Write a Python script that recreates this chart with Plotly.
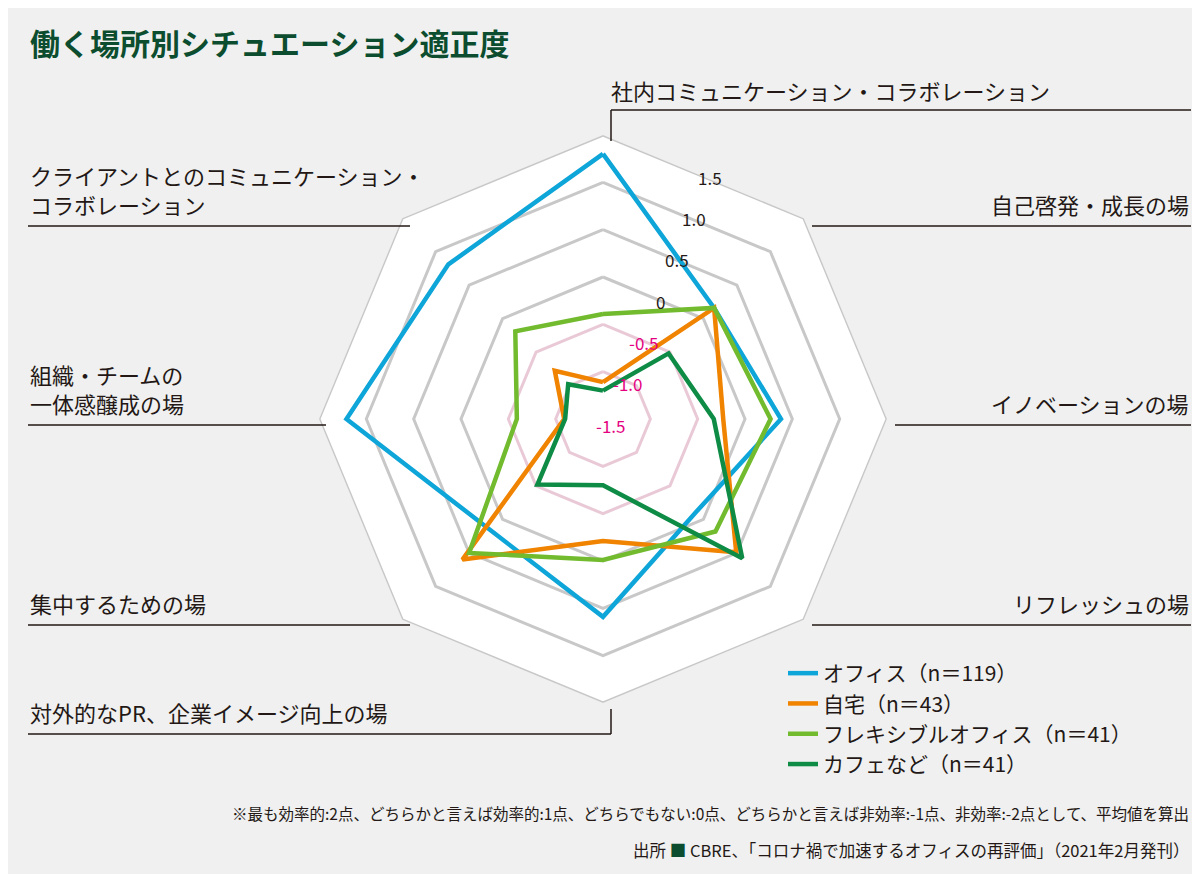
import math
import plotly.graph_objects as go

cats = ["社内コミュニケーション・コラボレーション", "自己啓発・成長の場", "イノベーションの場", "リフレッシュの場",
        "対外的なPR、企業イメージ向上の場", "集中するための場", "組織・チームの一体感醸成の場", "クライアントとのコミュニケーション・コラボレーション"]
series_names = ["オフィス（n＝119）", "自宅（n＝43）", "フレキシブルオフィス（n＝41）", "カフェなど（n＝41）"]
office = [1.30, 0.16, 0.38, -0.11, 0.59, 0.17, 1.21, 0.81]
home = [-1.11, 0.16, -0.23, 0.49, -0.21, 0.60, -1.09, -0.78]
flex = [-0.39, 0.16, 0.27, 0.18, -0.01, 0.50, -0.59, -0.19]
cafe = [-1.20, -0.52, -0.33, 0.58, -0.80, -0.52, -1.10, -0.98]
tick_vals = [-1.5, -1.0, -0.5, 0, 0.5, 1.0, 1.5]
tick_text = ["-1.5", "-1.0", "-0.5", "0", "0.5", "1.0", "1.5"]
colors = ["#0ea5d9", "#f08300", "#72bb2e", "#0e8c46"]
PINK = "#e4007f"
FONT = "Noto Sans CJK JP"

fig = go.Figure()
theta_closed = cats + [cats[0]]
for v in tick_vals[1:]:
    fig.add_trace(go.Scatterpolar(r=[v] * 9, theta=theta_closed, mode="lines",
                                  line=dict(color="#e9c9d6" if v < 0 else "#c8c8c8", width=3),
                                  showlegend=False, hoverinfo="skip"))
fig.add_trace(go.Scatterpolar(r=[tick_vals[0]], theta=[cats[0]], mode="markers",
                              marker=dict(color="#e9c9d6", size=8), showlegend=False, hoverinfo="skip"))
for name, vals, c in zip(series_names, [office, home, flex, cafe], colors):
    fig.add_trace(go.Scatterpolar(r=vals + [vals[0]], theta=theta_closed, mode="lines", name=name,
                                  line=dict(color=c, width=4.5)))

fig.update_layout(
    width=1200, height=874, margin=dict(l=0, r=0, t=0, b=0),
    paper_bgcolor="#f0f0f0", font=dict(family=FONT, color="#231815"),
    polar=dict(
        domain=dict(x=[311 / 1200, 879 / 1200], y=[1 - 695 / 874, 1 - 127 / 874]),
        bgcolor="white", gridshape="linear",
        radialaxis=dict(range=[-1.5, 1.5], showgrid=False, showline=False, ticks="",
                        showticklabels=False),
        angularaxis=dict(direction="clockwise", rotation=90, showgrid=False, showline=False,
                         showticklabels=False, ticks=""),
    ),
    legend=dict(x=775 / 1200, y=1 - 645 / 874, xanchor="left", yanchor="top",
                bgcolor="rgba(0,0,0,0)", font=dict(size=21, family=FONT), tracegroupgap=0),
    showlegend=True,
)

def px(x, y):
    return x / 1200, 1 - y / 874

shapes = []
def line(x0, y0, x1, y1):
    a, b = px(x0, y0); c, d = px(x1, y1)
    shapes.append(dict(type="line", xref="paper", yref="paper", x0=a, y0=b, x1=c, y1=d,
                       line=dict(color="#231815", width=1.5)))
line(603, 133, 603, 102); line(603, 102, 1183, 102)
line(804, 218, 1183, 218)
line(887, 417, 1183, 417)
line(804, 617, 1183, 617)
line(603, 701, 603, 726); line(20, 726, 603, 726)
line(20, 617, 402, 617)
line(20, 417, 318, 417)
line(20, 218, 402, 218)
fig.update_layout(shapes=shapes)

def text(x, y, s, anchor="left", size=22, color="#231815", bold=False, yanchor="bottom"):
    a, b = px(x, y)
    fig.add_annotation(x=a, y=b, xref="paper", yref="paper", text=(f"<b>{s}</b>" if bold else s),
                       showarrow=False, xanchor=anchor, yanchor=yanchor, align=anchor,
                       font=dict(size=size, color=color, family=FONT))

# radial tick labels placed along a slanted line from the chart centre
cx, cy, ang = 603, 417, math.radians(21.8)
for v, t in zip(tick_vals, tick_text):
    rr = (v - tick_vals[0]) * 89
    text(cx + rr * math.sin(ang), cy - rr * math.cos(ang), t, "center", size=17,
         color=PINK if v < 0 else "#231815", yanchor="middle")

text(20, 58, "働く場所別シチュエーション適正度", size=30, color="#0b4d2e", bold=True)
text(601, 100, cats[0])
text(1183, 214, cats[1], "right")
text(1183, 413, cats[2], "right")
text(1183, 613, cats[3], "right")
text(20, 722, cats[4])
text(20, 613, cats[5])
text(20, 413, "組織・チームの<br>一体感醸成の場")
text(20, 214, "クライアントとのコミュニケーション・<br>コラボレーション")
text(1183, 818, "※最も効率的:2点、どちらかと言えば効率的:1点、どちらでもない:0点、どちらかと言えば非効率:-1点、非効率:-2点として、平均値を算出", "right", size=15.5)
text(1183, 856, "出所 <span style='color:#0b4d2e'>■</span> CBRE、「コロナ禍で加速するオフィスの再評価」（2021年2月発刊）", "right", size=16.5)

fig.write_html("out.html")
